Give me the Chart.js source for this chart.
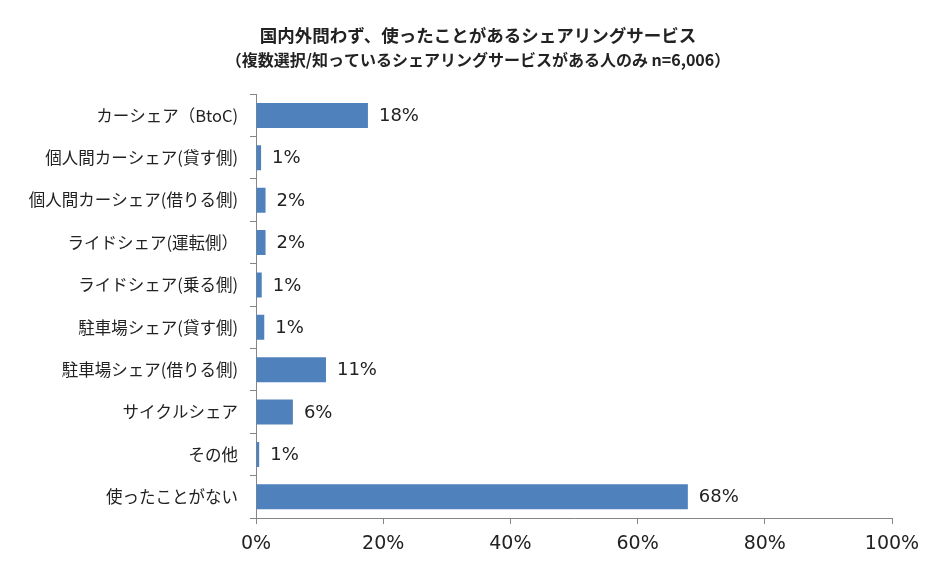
<!DOCTYPE html>
<html>
<head>
<meta charset="utf-8">
<script src="https://cdn.jsdelivr.net/npm/chart.js@4"></script>
<style>
  html, body { margin: 0; padding: 0; background: #fff; }
  #wrap { width: 944px; height: 584px; }
</style>
</head>
<body>
<div id="wrap"><canvas id="shareChart" width="944" height="584"></canvas></div>
<script>
const titleText = '国内外問わず、使ったことがあるシェアリングサービス';
const subtitleText = '（複数選択/知っているシェアリングサービスがある人のみ n=6,006）';
const categories = [
  'カーシェア（BtoC)',
  '個人間カーシェア(貸す側)',
  '個人間カーシェア(借りる側)',
  'ライドシェア(運転側）',
  'ライドシェア(乗る側)',
  '駐車場シェア(貸す側)',
  '駐車場シェア(借りる側)',
  'サイクルシェア',
  'その他',
  '使ったことがない'
];
const shares = [17.6, 0.8, 1.5, 1.5, 0.9, 1.3, 11.0, 5.8, 0.5, 67.9];
const xTicks = [0, 20, 40, 60, 80, 100];

const cjkFont = '"Noto Sans CJK JP", "Noto Sans", sans-serif';
const numFont = '"DejaVu Sans", "Noto Sans CJK JP", sans-serif';
const textColor = '#222';
const axisColor = '#868686';

// value labels to the right of each bar
const valueLabels = {
  id: 'valueLabels',
  afterDatasetsDraw(chart) {
    const ctx = chart.ctx;
    const meta = chart.getDatasetMeta(0);
    ctx.save();
    ctx.font = '18px ' + numFont;
    ctx.fillStyle = textColor;
    ctx.textAlign = 'left';
    ctx.textBaseline = 'middle';
    meta.data.forEach(function(bar, i) {
      ctx.fillText(Math.round(shares[i]) + '%', bar.x + 11, bar.y + 1);
    });
    ctx.restore();
  }
};

// the title in the original is centred a bit right of the canvas middle
const shiftTitles = {
  id: 'shiftTitles',
  afterLayout(chart) {
    chart.boxes.forEach(function(box) {
      if (box.position === 'top' && box.options && box.options.text) {
        box.left = 64;
      }
    });
  }
};

const ctx = document.getElementById('shareChart').getContext('2d');
new Chart(ctx, {
  type: 'bar',
  data: {
    labels: categories,
    datasets: [{
      data: shares,
      backgroundColor: '#4F81BD',
      borderWidth: 0,
      barPercentage: 0.59,
      categoryPercentage: 1
    }]
  },
  plugins: [valueLabels, shiftTitles],
  options: {
    indexAxis: 'y',
    responsive: false,
    animation: false,
    layout: { padding: { left: 0, right: 52, top: 0, bottom: 0 } },
    plugins: {
      legend: { display: false },
      tooltip: { enabled: false },
      title: {
        display: true,
        text: titleText,
        color: textColor,
        font: { family: cjkFont, size: 17.5, weight: 'bold', lineHeight: 1.2 },
        padding: { top: 25, bottom: 0 }
      },
      subtitle: {
        display: true,
        text: subtitleText,
        color: textColor,
        font: { family: cjkFont, size: 16, weight: 'bold', lineHeight: 1.2 },
        padding: { top: 4, bottom: 25 }
      }
    },
    scales: {
      x: {
        min: 0,
        max: 100,
        afterBuildTicks(scale) {
          scale.ticks = xTicks.map(v => ({ value: v }));
        },
        afterFit(scale) { scale.height = 66; },
        border: { display: true, color: axisColor, width: 1 },
        grid: { display: true, drawOnChartArea: false, drawTicks: true, tickLength: 6, color: axisColor },
        ticks: {
          color: textColor,
          font: { family: numFont, size: 19 },
          padding: 9,
          maxRotation: 0,
          callback: v => v + '%'
        }
      },
      y: {
        afterFit(scale) { scale.width = 256; },
        border: { display: true, color: axisColor, width: 1 },
        grid: { display: true, offset: true, drawOnChartArea: false, drawTicks: true, tickLength: 6, color: axisColor },
        ticks: {
          color: textColor,
          font: { family: cjkFont, size: 16.5 },
          padding: 12,
          autoSkip: false
        }
      }
    }
  }
});
</script>
</body>
</html>
